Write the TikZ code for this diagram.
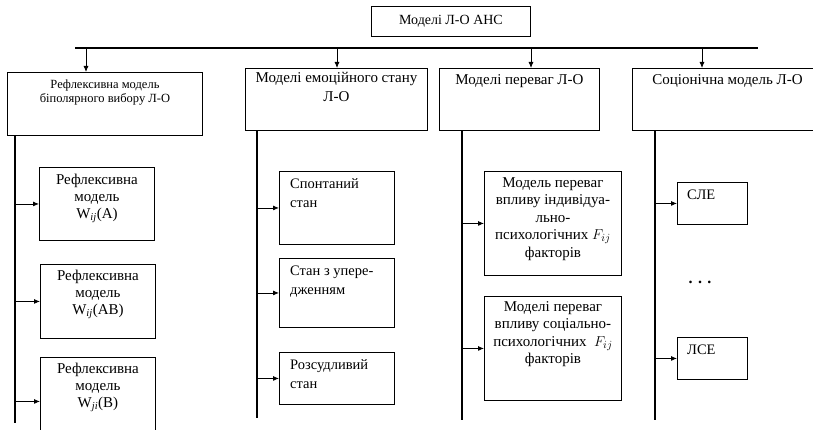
\documentclass[tikz,border=0pt]{standalone}
\usepackage{fontspec}
\setmainfont{Liberation Serif}
\usetikzlibrary{arrows.meta}
\begin{document}
\begin{tikzpicture}[x=1pt,y=-1pt,
  box/.style={draw, line width=0.9pt, inner sep=0pt, anchor=north west},
  arr/.style={line width=0.8pt, -{Latex[length=6pt,width=5pt]}},
  busline/.style={line width=1.8pt},
  hdr/.style={font=\fontsize{15}{19}\selectfont, align=center, inner sep=0pt, anchor=north},
  hdrsmall/.style={font=\fontsize{12.5}{14}\selectfont, align=center, inner sep=0pt, anchor=north},
  subc/.style={font=\fontsize{15}{17}\selectfont, align=center, inner sep=0pt, anchor=north},
  subl/.style={font=\fontsize{14.5}{19}\selectfont, align=left, inner sep=0pt, anchor=north west},
  subf/.style={font=\fontsize{15}{17.5}\selectfont, align=center, inner sep=0pt, anchor=north}]
\useasboundingbox[fill=white] (0,0) rectangle (813,430);

% top
\node[box, minimum width=159pt, minimum height=30pt, font=\fontsize{14}{16}\selectfont] (top) at (371,6) {Моделі Л-О АНС};
\coordinate (busL) at (75,48);
\coordinate (busR) at (758,48);
\draw[busline] (busL) -- (busR);

% level 1 boxes
\node[box, minimum width=195pt, minimum height=63pt] (b1) at (7,72) {};
\node[box, minimum width=182pt, minimum height=62pt] (b2) at (245,68) {};
\node[box, minimum width=160pt, minimum height=62pt] (b3) at (439,68) {};
\node[box, minimum width=190pt, minimum height=62pt] (b4) at (632,68) {};

\node[hdrsmall] (h1) at ([yshift=-8pt]b1.north) {Рефлексивна модель\\біполярного вибору Л-О};
\node[hdr] (h2) at ([yshift=-4pt]b2.north) {Моделі емоційного стану\\Л-О};
\node[hdr] (h3) at ([yshift=-6pt]b3.north) {Моделі переваг Л-О};
\node[hdr] (h4) at ([yshift=-6pt]b4.north) {Соціонічна модель Л-О};

\coordinate (t1) at (86,48);
\coordinate (t2) at (337,48);
\coordinate (t3) at (531,48);
\coordinate (t4) at (702,48);
\draw[arr] (t1) -- (t1 |- b1.north);
\draw[arr] (t2) -- (t2 |- b2.north);
\draw[arr] (t3) -- (t3 |- b3.north);
\draw[arr] (t4) -- (t4 |- b4.north);

% vertical lines
\coordinate (v1) at (15,423);
\coordinate (v2) at (257,418);
\coordinate (v3) at (462,420);
\coordinate (v4) at (655,420);
\draw[busline] (v1 |- b1.south) -- (v1);
\draw[busline] (v2 |- b2.south) -- (v2);
\draw[busline] (v3 |- b3.south) -- (v3);
\draw[busline] (v4 |- b4.south) -- (v4);

% column 1
\node[box, minimum width=115pt, minimum height=73pt] (a1) at (39,167) {};
\node[box, minimum width=115pt, minimum height=74pt] (a2) at (40,264) {};
\node[box, minimum width=115pt, minimum height=88pt] (a3) at (40,357) {};
\node[subc] (ta1) at ([yshift=-7pt]a1.north) {Рефлексивна\\модель\\W\textsubscript{\textit{ij}}(A)};
\node[subc] (ta2) at ([yshift=-6pt]a2.north) {Рефлексивна\\модель\\W\textsubscript{\textit{ij}}(AB)};
\node[subc] (ta3) at ([yshift=-6pt]a3.north) {Рефлексивна\\модель\\W\textsubscript{\textit{ji}}(B)};
\draw[arr] (v1 |- a1.west) -- (a1.west);
\draw[arr] (v1 |- a2.west) -- (a2.west);
\draw[arr] (v1 |- a3.west) -- (a3.west);

% column 2
\node[box, minimum width=115pt, minimum height=73pt] (c1) at (279,171) {};
\node[box, minimum width=115pt, minimum height=69pt] (c2) at (279,258) {};
\node[box, minimum width=115pt, minimum height=52pt] (c3) at (279,352) {};
\node[subl] (tc1) at ([xshift=11pt,yshift=-7pt]c1.north west) {Спонтаний\\стан};
\node[subl] (tc2) at ([xshift=11pt,yshift=-8pt]c2.north west) {Стан з упере-\\дженням};
\node[subl] (tc3) at ([xshift=11pt,yshift=-7pt]c3.north west) {Розсудливий\\стан};
\draw[arr] (v2 |- c1.west) -- (c1.west);
\draw[arr] (v2 |- c2.west) -- (c2.west);
\draw[arr] (v2 |- c3.west) -- (c3.west);

% column 3
\node[box, minimum width=137pt, minimum height=104pt] (d1) at (484,171) {};
\node[box, minimum width=137pt, minimum height=104pt] (d2) at (484,296) {};
\node[subf] (td1) at ([yshift=-6pt]d1.north) {Модель переваг\\впливу індивідуа-\\льно-\\психологічних $F_{ij}$\\факторів};
\node[subf] (td2) at ([yshift=-5pt]d2.north) {Моделі переваг\\впливу соціально-\\психологічних \ $F_{ij}$\\факторів};
\draw[arr] (v3 |- d1.west) -- (d1.west);
\draw[arr] (v3 |- d2.west) -- (d2.west);

% column 4
\node[box, minimum width=70pt, minimum height=42pt] (e1) at (677,182) {};
\node[box, minimum width=70pt, minimum height=42pt] (e2) at (677,337) {};
\node[subl] (te1) at ([xshift=10pt,yshift=-8pt]e1.north west) {СЛЕ};
\node[subl] (te2) at ([xshift=10pt,yshift=-8pt]e2.north west) {ЛСЕ};
\draw[arr] (v4 |- e1.west) -- (e1.west);
\draw[arr] (v4 |- e2.west) -- (e2.west);
\node[font=\fontsize{16}{18}\bfseries\selectfont, inner sep=0pt] (dots) at (700,282) {.\,\,.\,\,.};
\end{tikzpicture}
\end{document}
